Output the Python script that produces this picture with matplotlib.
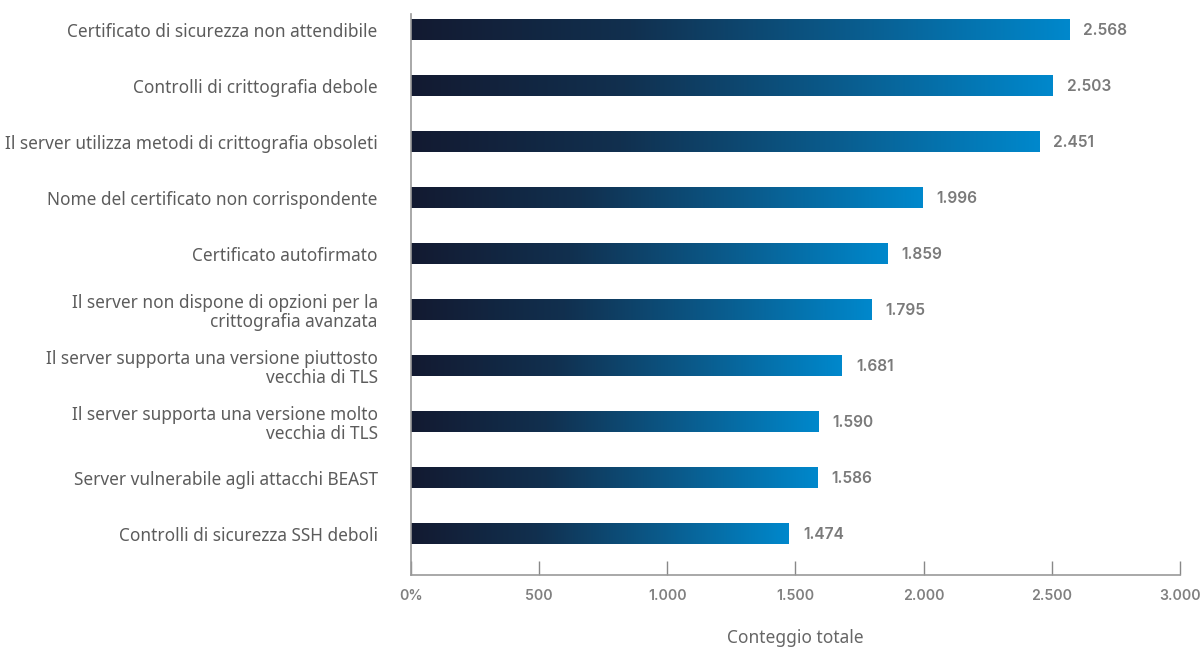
import numpy as np
import matplotlib
matplotlib.use("Agg")
import matplotlib.pyplot as plt
from matplotlib.colors import LinearSegmentedColormap

categories = [
    "Certificato di sicurezza non attendibile",
    "Controlli di crittografia debole",
    "Il server utilizza metodi di crittografia obsoleti",
    "Nome del certificato non corrispondente",
    "Certificato autofirmato",
    "Il server non dispone di opzioni per la\ncrittografia avanzata",
    "Il server supporta una versione piuttosto\nvecchia di TLS",
    "Il server supporta una versione molto\nvecchia di TLS",
    "Server vulnerabile agli attacchi BEAST",
    "Controlli di sicurezza SSH deboli",
]
counts = [2568, 2503, 2451, 1996, 1859, 1795, 1681, 1590, 1586, 1474]
xticks = [0, 500, 1000, 1500, 2000, 2500, 3000]
xtick_labels = ["0%", "500", "1.000", "1.500", "2.000", "2.500", "3.000"]

plt.rcParams["font.family"] = ["Noto Sans", "DejaVu Sans"]

fig = plt.figure(figsize=(12.01, 6.48), dpi=100)
ax = fig.add_axes([411 / 1201, 1 - 575 / 648, 769 / 1201, 561 / 648])

cmap = LinearSegmentedColormap.from_list("bar", ["#131a31", "#11304f", "#0a5b8c", "#0088cc"])
grad = np.linspace(0, 1, 256).reshape(1, -1)
h = 0.36
for i, v in enumerate(counts):
    ax.imshow(grad, cmap=cmap, aspect="auto", extent=[0, v, i + h / 2, i - h / 2],
              interpolation="bilinear", zorder=2)
    ax.text(v + 55, i, f"{v / 1000:.3f}", va="center", ha="left",
            fontsize=11.2, fontweight="semibold", color="#7a7a7a", family="Inter")

ax.set_xlim(0, 3000)
ax.set_ylim(9.73, -0.286)
ax.set_yticks(range(len(categories)))
ax.set_yticklabels(categories, fontsize=12.4, color="#5c5c5c", linespacing=1.1)
ax.tick_params(axis="y", length=0, pad=24)
ax.set_xticks(xticks)
ax.set_xticklabels(xtick_labels, fontsize=10.2, fontweight="semibold", color="#808080", family="Inter")
ax.tick_params(axis="x", direction="in", length=10, width=1, color="#888888", pad=10)
for s in ["top", "right"]:
    ax.spines[s].set_visible(False)
for s in ["left", "bottom"]:
    ax.spines[s].set_color("#999999")
    ax.spines[s].set_linewidth(1.2)
ax.set_xlabel("Conteggio totale", fontsize=12.5, color="#666666", labelpad=19)

fig.savefig("out.png", dpi=100)
